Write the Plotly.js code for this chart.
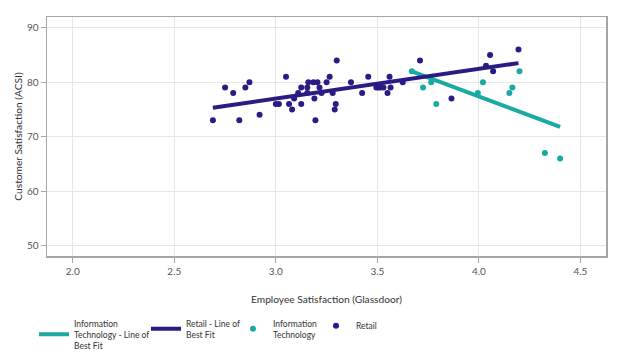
<!DOCTYPE html>
<html>
<head>
<meta charset="utf-8">
<script src="https://cdn.plot.ly/plotly-3.0.1.min.js"></script>
<style>html,body{margin:0;padding:0;background:#fff;}#chart{width:624px;height:364px;}</style>
</head>
<body>
<div id="chart"></div>
<script>
// Retail (Glassdoor employee rating, ACSI customer score)
const retailX = [2.69,2.75,2.79,2.82,2.85,2.87,2.92,3.00,3.015,3.05,3.065,3.08,3.09,3.11,3.125,3.125,3.155,3.155,3.16,3.185,3.19,3.195,3.205,3.215,3.225,3.25,3.265,3.28,3.295,3.29,3.30,3.37,3.425,3.455,3.495,3.505,3.515,3.53,3.55,3.56,3.565,3.625,3.71,3.865,4.035,4.055,4.07,4.195];
const retailY = [73,79,78,73,79,80,74,76,76,81,76,75,77,78,79,76,79,78,80,80,77,73,80,79,78,80,81,78,76,75,84,80,78,81,79,79,79,79,78,81,79,80,84,77,83,85,82,86];
// Information Technology
const itX = [3.67,3.725,3.765,3.79,3.995,4.02,4.15,4.165,4.20,4.325,4.40];
const itY = [82,79,80,76,78,80,78,79,82,67,66];
// Lines of best fit (endpoints)
const retailFitX = [2.69,4.195];
const retailFitY = [75.3,83.5];
const itFitX = [3.67,4.40];
const itFitY = [82.0,71.8];
const xTicks = [2.0,2.5,3.0,3.5,4.0,4.5];
const xTickText = ['2.0','2.5','3.0','3.5','4.0','4.5'];
const yTicks = [50,60,70,80,90];

const navy = '#2a1b85';
const teal = '#1baaa2';

const traces = [
  {x: itFitX, y: itFitY, mode: 'lines', type: 'scatter', name: 'Information<br>Technology - Line of<br>Best Fit', line: {color: teal, width: 4}, legendwidth: 67},
  {x: retailFitX, y: retailFitY, mode: 'lines', type: 'scatter', name: 'Retail - Line of<br>Best Fit', line: {color: navy, width: 4}, legendwidth: 42},
  {x: itX, y: itY, mode: 'markers', type: 'scatter', name: 'Information<br>Technology', marker: {color: teal, size: 6}, legendwidth: 38},
  {x: retailX, y: retailY, mode: 'markers', type: 'scatter', name: 'Retail', marker: {color: navy, size: 6}}
];

const layout = {
  width: 624, height: 364,
  margin: {l: 47, r: 18, t: 17, b: 108},
  paper_bgcolor: '#fff', plot_bgcolor: '#fff',
  font: {family: 'Lato, "Open Sans", sans-serif', size: 10, color: '#333'},
  xaxis: {
    range: [1.873, 4.626], tickvals: xTicks, ticktext: xTickText,
    showgrid: true, gridcolor: '#e6e6e6', gridwidth: 1, zeroline: false,
    showline: true, linecolor: '#a6a6a6', linewidth: 1.5, mirror: true,
    ticks: 'outside', ticklen: 5, tickcolor: '#a6a6a6',
    tickfont: {size: 10, color: '#555'},
    title: {text: 'Employee Satisfaction (Glassdoor)', font: {size: 10.2, color: '#333'}, standoff: 20}
  },
  yaxis: {
    range: [48.07, 91.97], tickvals: yTicks,
    showgrid: true, gridcolor: '#e6e6e6', gridwidth: 1, zeroline: false,
    showline: true, linecolor: '#a6a6a6', linewidth: 1.5, mirror: true,
    ticks: 'outside', ticklen: 5, tickcolor: '#a6a6a6',
    tickfont: {size: 10, color: '#555'},
    title: {text: 'Customer Satisfaction (ACSI)', font: {size: 10.2, color: '#333'}, standoff: 2}
  },
  showlegend: true,
  legend: {
    orientation: 'h', xref: 'container', yref: 'container',
    x: 0.0545, y: 0.145, xanchor: 'left', yanchor: 'top',
    font: {size: 8.5, color: '#333'}, itemwidth: 30, valign: 'middle',
    traceorder: 'normal'
  }
};

Plotly.newPlot('chart', traces, layout, {displayModeBar: false, staticPlot: true});
</script>
</body>
</html>
